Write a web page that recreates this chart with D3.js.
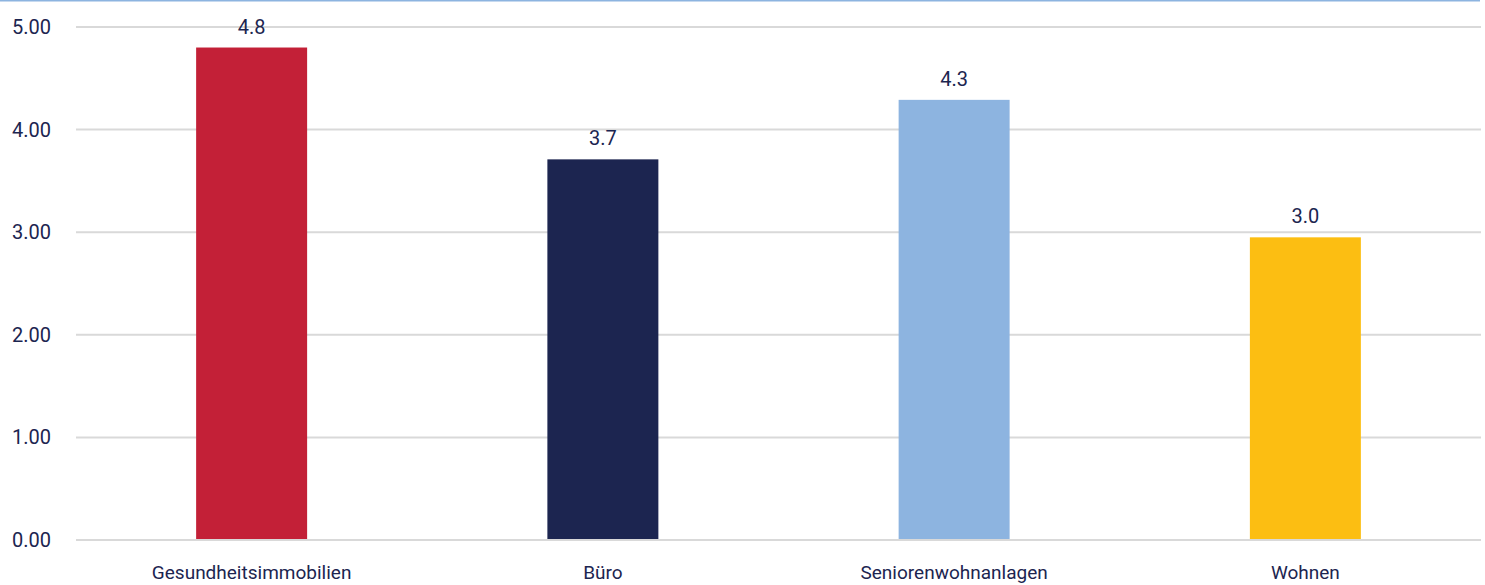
<!DOCTYPE html>
<html>
<head>
<meta charset="utf-8">
<script src="https://cdn.jsdelivr.net/npm/d3@7"></script>
<style>
  body { margin: 0; background: #fff; }
  text { font-family: "Roboto", "Noto Sans", sans-serif; font-weight: 400; fill: #1c2550; }
</style>
</head>
<body>
<script>
const categories = ['Gesundheitsimmobilien', 'Büro', 'Seniorenwohnanlagen', 'Wohnen'];
const values = [4.8, 3.71, 4.29, 2.95];
const colors = ['#c32037', '#1c2550', '#8db4e0', '#fcbe12'];
const yTicks = [0, 1, 2, 3, 4, 5];

const W = 1485, H = 585;
const margin = { top: 27, right: 4, bottom: 45, left: 76 };

const svg = d3.select('body').append('svg')
  .attr('width', W)
  .attr('height', H);

// top border line
svg.append('line')
  .attr('x1', 0).attr('x2', 1480)
  .attr('y1', 0.5).attr('y2', 0.5)
  .attr('stroke', '#8db4e0')
  .attr('stroke-width', 2);

const x = d3.scaleBand()
  .domain(categories)
  .range([margin.left, W - margin.right])
  .paddingInner(0.684)
  .paddingOuter(0.342);

const y = d3.scaleLinear()
  .domain([0, 5])
  .range([H - margin.bottom, margin.top]);

// gridlines
svg.selectAll('.grid')
  .data(yTicks)
  .enter()
  .append('line')
  .attr('class', 'grid')
  .attr('x1', margin.left)
  .attr('x2', W - margin.right)
  .attr('y1', d => y(d))
  .attr('y2', d => y(d))
  .attr('stroke', '#d9d9d9')
  .attr('stroke-width', 2);

// y labels
svg.selectAll('.yLabel')
  .data(yTicks)
  .enter()
  .append('text')
  .attr('class', 'yLabel')
  .attr('x', 51)
  .attr('y', d => y(d))
  .attr('dy', '0.35em')
  .style('text-anchor', 'end')
  .style('font-size', '20px')
  .text(d => d.toFixed(2));

// bars
svg.selectAll('.bar')
  .data(values)
  .enter()
  .append('rect')
  .attr('class', 'bar')
  .attr('x', (d, i) => x(categories[i]))
  .attr('y', d => y(d))
  .attr('width', x.bandwidth())
  .attr('height', d => y(0) - y(d) - 1)
  .attr('fill', (d, i) => colors[i]);

// value labels
svg.selectAll('.valLabel')
  .data(values)
  .enter()
  .append('text')
  .attr('class', 'valLabel')
  .attr('x', (d, i) => x(categories[i]) + x.bandwidth() / 2)
  .attr('y', d => y(d) - 14)
  .style('text-anchor', 'middle')
  .style('font-size', '20px')
  .text(d => d.toFixed(1));

// category labels
svg.selectAll('.xLabel')
  .data(categories)
  .enter()
  .append('text')
  .attr('class', 'xLabel')
  .attr('x', d => x(d) + x.bandwidth() / 2)
  .attr('y', 579)
  .style('text-anchor', 'middle')
  .style('font-size', '19px')
  .text(d => d);
</script>
</body>
</html>
